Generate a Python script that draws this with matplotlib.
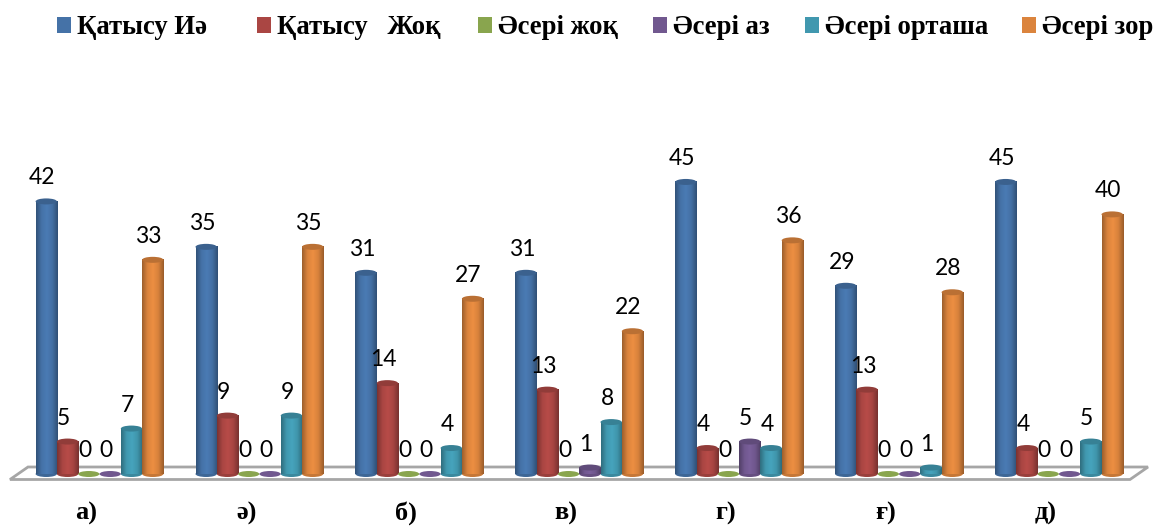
import numpy as np
import matplotlib
matplotlib.use('Agg')
import matplotlib.pyplot as plt
from matplotlib.colors import LinearSegmentedColormap
from matplotlib.patches import Ellipse, Polygon, Rectangle

categories = ['а)', 'ә)', 'б)', 'в)', 'г)', 'ғ)', 'д)']
series_names = ['Қатысу Иә', 'Қатысу   Жоқ', 'Әсері жоқ', 'Әсері аз', 'Әсері орташа', 'Әсері зор']

qatysu_ia = [42, 35, 31, 31, 45, 29, 45]
qatysu_joq = [5, 9, 14, 13, 4, 13, 4]
aseri_joq = [0, 0, 0, 0, 0, 0, 0]
aseri_az = [0, 0, 0, 1, 5, 0, 0]
aseri_orta = [7, 9, 4, 8, 4, 1, 5]
aseri_zor = [33, 35, 27, 22, 36, 28, 40]

series = [qatysu_ia, qatysu_joq, aseri_joq, aseri_az, aseri_orta, aseri_zor]
colors = ['#4572a7', '#aa4643', '#89a54e', '#71588f', '#4198af', '#db843d']
legend_x = [57, 257, 478, 653, 805, 1022]

W, H = 1153, 527
px_x = 159.9      # pixels per group
px_y = 6.49       # pixels per unit
x0, y0 = 99.5, 474

fig = plt.figure(figsize=(W / 100, H / 100), dpi=100)
ax = fig.add_axes([0, 0, 1, 1])
ax.axis('off')


def X(px):
    return (px - x0) / px_x


def Y(px):
    return (y0 - px) / px_y


def shade(c):
    # darker at the edges, lighter left of the middle
    rgb = np.array(matplotlib.colors.to_rgb(c))
    return LinearSegmentedColormap.from_list('c', [rgb * 0.72, rgb * 1.0, np.minimum(rgb * 1.08, 1), rgb * 0.98, rgb * 0.7])


# floor of the 3d chart
floor = Polygon([(X(10), Y(479.5)), (X(28), Y(467)), (X(1148), Y(467)), (X(1130), Y(479.5))],
                closed=True, fc='white', ec='#a6a6a6', lw=2, zorder=1)
ax.add_patch(floor)

bar_w = 21.3 / px_x
ell_h = 6 / px_y
grad = np.linspace(0, 1, 64).reshape(1, -1)

for s, vals in enumerate(series):
    rgb = np.array(matplotlib.colors.to_rgb(colors[s]))
    for g, v in enumerate(vals):
        cx = g + (s - 2.5) * bar_w
        z = 3 + s * 0.01
        if v > 0:
            ax.imshow(grad, extent=[cx - bar_w / 2, cx + bar_w / 2, 0, v], aspect='auto',
                      cmap=shade(colors[s]), zorder=z, interpolation='bilinear')
            ax.add_patch(Ellipse((cx, v), bar_w, ell_h, fc=rgb * 0.85, ec='none', zorder=z))
            ax.add_patch(Ellipse((cx, 0), bar_w, ell_h, fc=rgb * 0.9, ec='none', zorder=z - 0.5))
        else:
            ax.add_patch(Ellipse((cx, 0), bar_w, ell_h, fc=colors[s], ec='none', zorder=z))
        ax.text(cx - 4 / px_x, v + 23.5 / px_y, str(v), ha='center', va='center',
                fontsize=16.5, family='Lato', color='black', zorder=6)

for g, c in enumerate(categories):
    ax.text(g - 13 / px_x, Y(513), c, ha='center', va='center', fontsize=19,
            family='Liberation Serif', weight='bold', zorder=6)

ax.set_xlim(X(0), X(W))
ax.set_ylim(Y(H), Y(0))

# legend written by hand, the gaps are uneven
for s, name in enumerate(series_names):
    fig.patches.append(Rectangle((legend_x[s] / W, 1 - 33 / H), 14 / W, 16 / H, transform=fig.transFigure,
                                 fc=colors[s], ec='none', figure=fig))
    fig.text((legend_x[s] + 20) / W, 1 - 27 / H, name, ha='left', va='center', fontsize=19.2,
             family='Liberation Serif', weight='bold')

fig.savefig('out.png', dpi=100)
